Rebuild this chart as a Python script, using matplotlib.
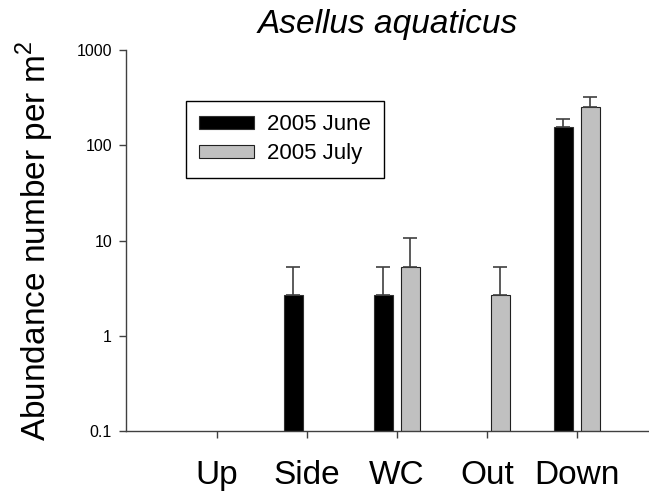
import numpy as np
import matplotlib
matplotlib.use("Agg")
import matplotlib.pyplot as plt

plt.rcParams['font.family'] = ['Liberation Sans', 'DejaVu Sans']
plt.rcParams['mathtext.fontset'] = 'custom'
plt.rcParams['mathtext.rm'] = 'Liberation Sans'

sites = ['Up', 'Side', 'WC', 'Out', 'Down']
june = [np.nan, 2.67, 2.67, np.nan, 154]
june_err = [0, 2.67, 2.67, 0, 35]
july = [np.nan, np.nan, 5.33, 2.67, 253]
july_err = [0, 0, 5.33, 2.67, 69]

x = np.arange(len(sites))
w = 0.215
axcol = '#404040'

fig = plt.figure(figsize=(6.49, 4.95), dpi=100)
ax = fig.add_axes([0.194, 0.129, 0.806, 0.77])

ax.bar(x - 0.152, june, w, color='black', edgecolor='#303030', linewidth=0.8, label='2005 June')
ax.bar(x + 0.148, july, w, color='#c0c0c0', edgecolor='#202020', linewidth=0.8, label='2005 July')
ax.errorbar(x - 0.152, june, yerr=[np.zeros(5), june_err], fmt='none',
            ecolor='#404040', elinewidth=1.2, capsize=5, capthick=1.2)
ax.errorbar(x + 0.148, july, yerr=[np.zeros(5), july_err], fmt='none',
            ecolor='#404040', elinewidth=1.2, capsize=5, capthick=1.2)

ax.set_yscale('log')
ax.set_ylim(0.1, 1000)
ax.set_xlim(-1.01, 4.8)
ax.set_yticks([0.1, 1, 10, 100, 1000])
ax.set_yticklabels(['0.1', '1', '10', '100', '1000'])
ax.minorticks_off()
ax.set_xticks(x)
ax.set_xticklabels(sites, fontsize=24)
ax.tick_params(axis='y', labelsize=11.5, direction='out', length=5, width=1, color=axcol, pad=5)
ax.tick_params(axis='x', direction='out', length=5, width=1, color=axcol, pad=16)

for s in ['top', 'right']:
    ax.spines[s].set_visible(False)
for s in ['left', 'bottom']:
    ax.spines[s].set_color(axcol)
    ax.spines[s].set_linewidth(1)

ax.set_ylabel('Abundance number per m$^{2}$', fontsize=24, labelpad=15)
ax.set_title('Asellus aquaticus', fontsize=24, style='italic', pad=12)

leg = ax.legend(loc='upper left', bbox_to_anchor=(0.115, 0.866), borderaxespad=0,
                fontsize=16, fancybox=False, edgecolor='black', framealpha=1,
                handlelength=2.45, handleheight=0.5, handletextpad=0.6,
                labelspacing=0.35, borderpad=0.6)
leg.get_frame().set_linewidth(1)

fig.savefig('out.png', dpi=100)
